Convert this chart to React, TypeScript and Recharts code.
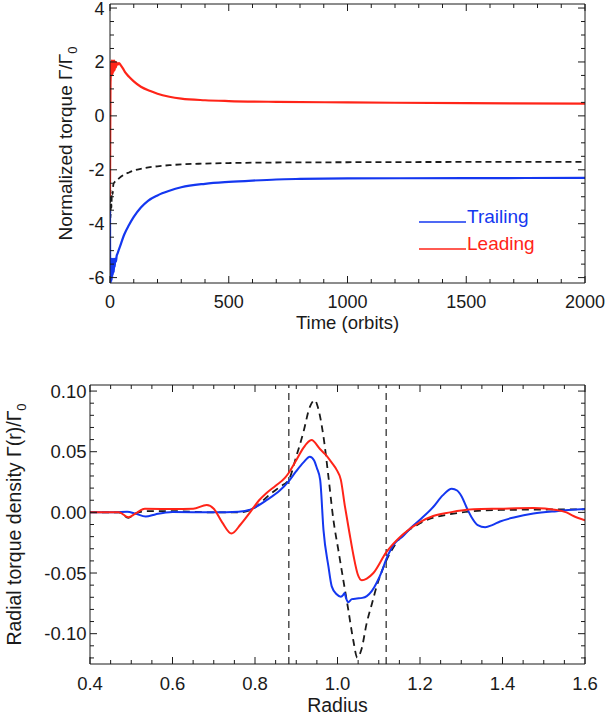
import React from 'react';
import { LineChart, Line, XAxis, YAxis, ReferenceLine, Customized } from 'recharts';

const FONT = '"Liberation Sans", Arial, Helvetica, sans-serif';
const INK = '#1a1a1a';
const BLUE = '#1437f0';
const RED = '#ff2418';

// ---- top panel: torque vs time (orbits) ----
const leadingTorque: number[][] = [
  [0, -3.0], [1, -0.5], [2, 1.2], [3, 1.45], [4, 2.0], [5, 1.45], [6, 2.05], [7, 1.5],
  [8, 2.05], [9, 1.55], [10, 2.05], [11, 1.55], [12, 2.0], [13, 1.6], [14, 2.05], [16, 1.65],
  [18, 2.05], [20, 1.7], [22, 2.0], [25, 1.8], [28, 1.98], [33, 1.9], [38, 1.96], [45, 1.88],
  [55, 1.75], [65, 1.6], [80, 1.45], [100, 1.28], [130, 1.08], [170, 0.92], [200, 0.82],
  [250, 0.71], [300, 0.64], [400, 0.58], [500, 0.55], [700, 0.52], [1000, 0.5], [1500, 0.47],
  [2000, 0.455],
];
const trailingTorque: number[][] = [
  [0, -3.5], [1, -6.2], [2, -5.3], [3, -6.2], [4, -5.35], [5, -6.15], [6, -5.3], [7, -6.1],
  [8, -5.3], [9, -6.0], [10, -5.3], [12, -5.9], [14, -5.3], [16, -5.8], [18, -5.3],
  [20, -5.6], [22, -5.3], [25, -5.4], [28, -5.2], [32, -5.1], [40, -4.9], [60, -4.4],
  [80, -4.05], [100, -3.75], [130, -3.4], [160, -3.15], [200, -2.95], [250, -2.78],
  [300, -2.65], [400, -2.52], [500, -2.45], [600, -2.4], [700, -2.36], [800, -2.34],
  [1000, -2.32], [1500, -2.31], [2000, -2.3],
];
const totalTorque: number[][] = [
  [0, -3.0], [2, -3.8], [4, -3.0], [6, -3.4], [8, -2.8], [11, -2.9], [14, -2.55], [20, -2.45],
  [28, -2.4], [40, -2.3], [60, -2.18], [80, -2.1], [100, -2.03], [150, -1.93], [200, -1.87],
  [250, -1.83], [300, -1.8], [400, -1.77], [500, -1.75], [700, -1.73], [1000, -1.72],
  [1500, -1.71], [2000, -1.71],
];
const timeLabels = [0, 500, 1000, 1500, 2000];
const torqueLabels = [-6, -4, -2, 0, 2, 4];

// ---- bottom panel: radial torque density ----
const trailingDensity: number[][] = [
  [0.4, 0], [0.46, 0], [0.49, 0.0005], [0.51, -0.001], [0.535, -0.0035], [0.56, -0.0015],
  [0.6, 0.0003], [0.7, 0], [0.76, 0.0005], [0.79, 0.0025], [0.83, 0.0105], [0.86, 0.018],
  [0.882, 0.0258], [0.9, 0.034], [0.917, 0.041], [0.933, 0.0459], [0.943, 0.043], [0.95, 0.0366],
  [0.958, 0.0268], [0.966, -0.0144], [0.978, -0.0446], [0.986, -0.061], [0.998, -0.0675],
  [1.008, -0.0695], [1.014, -0.068], [1.017, -0.0665], [1.021, -0.071], [1.026, -0.074],
  [1.035, -0.0715], [1.047, -0.071], [1.06, -0.0705], [1.071, -0.069], [1.083, -0.065],
  [1.095, -0.058], [1.107, -0.049], [1.118, -0.0387], [1.14, -0.025], [1.159, -0.0195],
  [1.18, -0.012], [1.2, -0.006], [1.232, 0.0044], [1.255, 0.014], [1.277, 0.0195],
  [1.29, 0.018], [1.301, 0.013], [1.313, 0.004], [1.325, -0.004], [1.34, -0.0105],
  [1.358, -0.0122], [1.375, -0.0105], [1.394, -0.0075], [1.43, -0.004], [1.475, -0.001],
  [1.531, 0.001], [1.6, 0.0027],
];
const leadingDensity: number[][] = [
  [0.4, 0], [0.47, 0], [0.493, -0.004], [0.51, -0.001], [0.533, 0.003], [0.6, 0.0028],
  [0.65, 0.003], [0.683, 0.006], [0.7, 0.003], [0.72, -0.008], [0.743, -0.0175], [0.765, -0.01],
  [0.788, 0], [0.81, 0.01], [0.828, 0.016], [0.85, 0.022], [0.873, 0.0286], [0.882, 0.0327],
  [0.9, 0.043], [0.917, 0.053], [0.937, 0.0596], [0.958, 0.052], [0.97, 0.048], [0.986, 0.041],
  [0.998, 0.035], [1.008, 0.027], [1.018, 0.005], [1.029, -0.017], [1.039, -0.036],
  [1.049, -0.051], [1.059, -0.056], [1.071, -0.0546], [1.087, -0.05], [1.118, -0.033],
  [1.159, -0.018], [1.2, -0.008], [1.232, -0.003], [1.273, 0], [1.33, 0.0025], [1.394, 0.003],
  [1.475, 0.0035], [1.531, 0.002], [1.555, 0], [1.572, -0.003], [1.6, -0.0065],
];
const totalDensity: number[][] = [
  [0.4, 0], [0.47, 0], [0.493, -0.0045], [0.51, -0.001], [0.54, 0.001], [0.6, 0.001],
  [0.7, 0], [0.76, 0], [0.79, 0.002], [0.836, 0.0148], [0.86, 0.021], [0.882, 0.027],
  [0.9, 0.046], [0.917, 0.0657], [0.933, 0.087], [0.945, 0.0925], [0.953, 0.086],
  [0.966, 0.0624], [0.978, 0.0295], [0.99, -0.006], [1.002, -0.031], [1.014, -0.0556],
  [1.026, -0.08], [1.038, -0.105], [1.048, -0.1197], [1.058, -0.113], [1.071, -0.091],
  [1.083, -0.076], [1.095, -0.061], [1.118, -0.04], [1.143, -0.025], [1.2, -0.009],
  [1.273, -0.0015], [1.394, 0.002], [1.6, 0.0025],
];
const hillEdges = [0.882, 1.118];
const radiusLabels = [0.4, 0.6, 0.8, 1.0, 1.2, 1.4, 1.6];
const densityLabels = [-0.1, -0.05, 0, 0.05, 0.1];

const steps = (from: number, to: number, step: number) => {
  const out: number[] = [];
  for (let v = from; v <= to + step / 2; v += step) out.push(Math.round(v * 1e6) / 1e6);
  return out;
};
const toPoints = (rows: number[][]) => rows.map(([x, v]) => ({ x, v }));
const isIn = (v: number, list: number[]) => list.some((m) => Math.abs(m - v) < 1e-6);

type Side = 'bottom' | 'top' | 'left' | 'right';
const makeTick = (
  side: Side, edge: number, majors: number[], fmt?: (v: number) => string,
  gap = 6, size = 18, below = 25,
) =>
  (props: any) => {
    const v = props.payload.value;
    const major = isIn(v, majors);
    const len = major ? 7 : 4;
    const { x, y } = props;
    const textProps = { fontSize: size, fontFamily: FONT, fill: INK };
    if (side === 'bottom' || side === 'top') {
      const dir = side === 'bottom' ? -1 : 1;
      return (
        <g>
          <line x1={x} x2={x} y1={edge} y2={edge + dir * len} stroke={INK} />
          {major && fmt && side === 'bottom' && (
            <text x={x} y={edge + below} textAnchor="middle" {...textProps}>{fmt(v)}</text>
          )}
        </g>
      );
    }
    const dir = side === 'left' ? 1 : -1;
    return (
      <g>
        <line x1={edge} x2={edge + dir * len} y1={y} y2={y} stroke={INK} />
        {major && fmt && side === 'left' && (
          <text x={edge - gap} y={y + size * 0.36} textAnchor="end" {...textProps}>{fmt(v)}</text>
        )}
      </g>
    );
  };

const W = 610;
const TOP_H = 340;
const top = { left: 110, right: 585, top: 4, bottom: 283 };
const BOT_H = 379;
const bot = { left: 90, right: 585, top: 45, bottom: 324 };

const TopNotes = () => (
  <g fontFamily={FONT} fontSize={19} fill={INK}>
    <text x={72} y={143.5} textAnchor="middle" transform="rotate(-90, 72, 143.5)">
      Normalized torque Γ/Γ<tspan fontSize={13} dy={5}>0</tspan>
    </text>
    <text x={347.5} y={328.5} textAnchor="middle" fontSize={18.5}>Time (orbits)</text>
    <line x1={419} x2={466} y1={222} y2={222} stroke={BLUE} strokeWidth={1.5} />
    <text x={467} y={223} fill={BLUE}>Trailing</text>
    <line x1={419} x2={466} y1={249} y2={249} stroke={RED} strokeWidth={1.5} />
    <text x={467} y={250} fill={RED}>Leading</text>
  </g>
);

const BottomNotes = () => (
  <g fontFamily={FONT} fontSize={19.5} fill={INK}>
    <text x={21} y={184.5} textAnchor="middle" transform="rotate(-90, 21, 184.5)">
      Radial torque density Γ(r)/Γ<tspan fontSize={13} dy={5}>0</tspan>
    </text>
    <text x={337.5} y={372} textAnchor="middle">Radius</text>
  </g>
);

const axisLine = { stroke: INK, strokeWidth: 1 };
// axes are 1px thick boxes so they still render; margins are shrunk by that pixel
const AX = 1;

export default function App() {
  const timeTicks = steps(0, 2000, 100);
  const torqueTicks = steps(-6, 4, 0.5);
  const radiusTicks = steps(0.4, 1.6, 0.05);
  const densityTicks = steps(-0.12, 0.1, 0.01);

  return (
    <div style={{ position: 'absolute', left: 0, top: 0, width: W, height: 719, background: '#fff' }}>
      <div style={{ position: 'absolute', left: 0, top: 0 }}>
        <LineChart
          width={W}
          height={TOP_H}
          margin={{
            top: top.top - AX,
            right: W - top.right - AX,
            bottom: TOP_H - top.bottom - AX,
            left: top.left - AX,
          }}
        >
          <XAxis dataKey="x" type="number" domain={[0, 2000]} allowDataOverflow ticks={timeTicks}
            interval={0} height={AX} tickSize={0} tickLine={false} axisLine={axisLine}
            tick={makeTick('bottom', top.bottom, timeLabels, (v) => String(v), 6, 18, 25)} />
          <XAxis xAxisId="top" orientation="top" dataKey="x" type="number" domain={[0, 2000]}
            allowDataOverflow ticks={timeTicks} interval={0} height={AX} tickSize={0} tickLine={false}
            axisLine={axisLine} tick={makeTick('top', top.top, timeLabels)} />
          <YAxis type="number" domain={[-6.2, 4.15]} allowDataOverflow ticks={torqueTicks}
            interval={0} width={AX} tickSize={0} tickLine={false} axisLine={axisLine}
            tick={makeTick('left', top.left, torqueLabels, (v) => String(v), 5.5, 18)} />
          <YAxis yAxisId="right" orientation="right" type="number" domain={[-6.2, 4.15]}
            allowDataOverflow ticks={torqueTicks} interval={0} width={AX} tickSize={0}
            tickLine={false} axisLine={axisLine} tick={makeTick('right', top.right, torqueLabels)} />
          <Line data={toPoints(totalTorque)} dataKey="v" type="monotone" stroke={INK}
            strokeWidth={1.8} strokeDasharray="6 4" dot={false} isAnimationActive={false} />
          <Line data={toPoints(trailingTorque)} dataKey="v" type="monotone" stroke={BLUE}
            strokeWidth={2.2} dot={false} isAnimationActive={false} />
          <Line data={toPoints(leadingTorque)} dataKey="v" type="monotone" stroke={RED}
            strokeWidth={2.2} dot={false} isAnimationActive={false} />
          <Customized component={TopNotes} />
        </LineChart>
      </div>
      <div style={{ position: 'absolute', left: 0, top: TOP_H }}>
        <LineChart
          width={W}
          height={BOT_H}
          margin={{
            top: bot.top - AX,
            right: W - bot.right - AX,
            bottom: BOT_H - bot.bottom - AX,
            left: bot.left - AX,
          }}
        >
          <XAxis dataKey="x" type="number" domain={[0.4, 1.6]} allowDataOverflow ticks={radiusTicks}
            interval={0} height={AX} tickSize={0} tickLine={false} axisLine={axisLine}
            tick={makeTick('bottom', bot.bottom, radiusLabels, (v) => v.toFixed(1), 6, 18.5, 26)} />
          <XAxis xAxisId="top" orientation="top" dataKey="x" type="number" domain={[0.4, 1.6]}
            allowDataOverflow ticks={radiusTicks} interval={0} height={AX} tickSize={0}
            tickLine={false} axisLine={axisLine} tick={makeTick('top', bot.top, radiusLabels)} />
          <YAxis type="number" domain={[-0.125, 0.105]} allowDataOverflow ticks={densityTicks}
            interval={0} width={AX} tickSize={0} tickLine={false} axisLine={axisLine}
            tick={makeTick('left', bot.left, densityLabels, (v) => v.toFixed(2), 3.5, 18.5)} />
          <YAxis yAxisId="right" orientation="right" type="number" domain={[-0.125, 0.105]}
            allowDataOverflow ticks={densityTicks} interval={0} width={AX} tickSize={0}
            tickLine={false} axisLine={axisLine} tick={makeTick('right', bot.right, densityLabels)} />
          {hillEdges.map((r) => (
            <ReferenceLine key={r} x={r} stroke="#333" strokeWidth={1.3} strokeDasharray="7 5" />
          ))}
          <Line data={toPoints(totalDensity)} dataKey="v" type="monotone" stroke={INK}
            strokeWidth={1.8} strokeDasharray="7 5" dot={false} isAnimationActive={false} />
          <Line data={toPoints(trailingDensity)} dataKey="v" type="monotone" stroke={BLUE}
            strokeWidth={2} dot={false} isAnimationActive={false} />
          <Line data={toPoints(leadingDensity)} dataKey="v" type="monotone" stroke={RED}
            strokeWidth={2} dot={false} isAnimationActive={false} />
          <Customized component={BottomNotes} />
        </LineChart>
      </div>
    </div>
  );
}
